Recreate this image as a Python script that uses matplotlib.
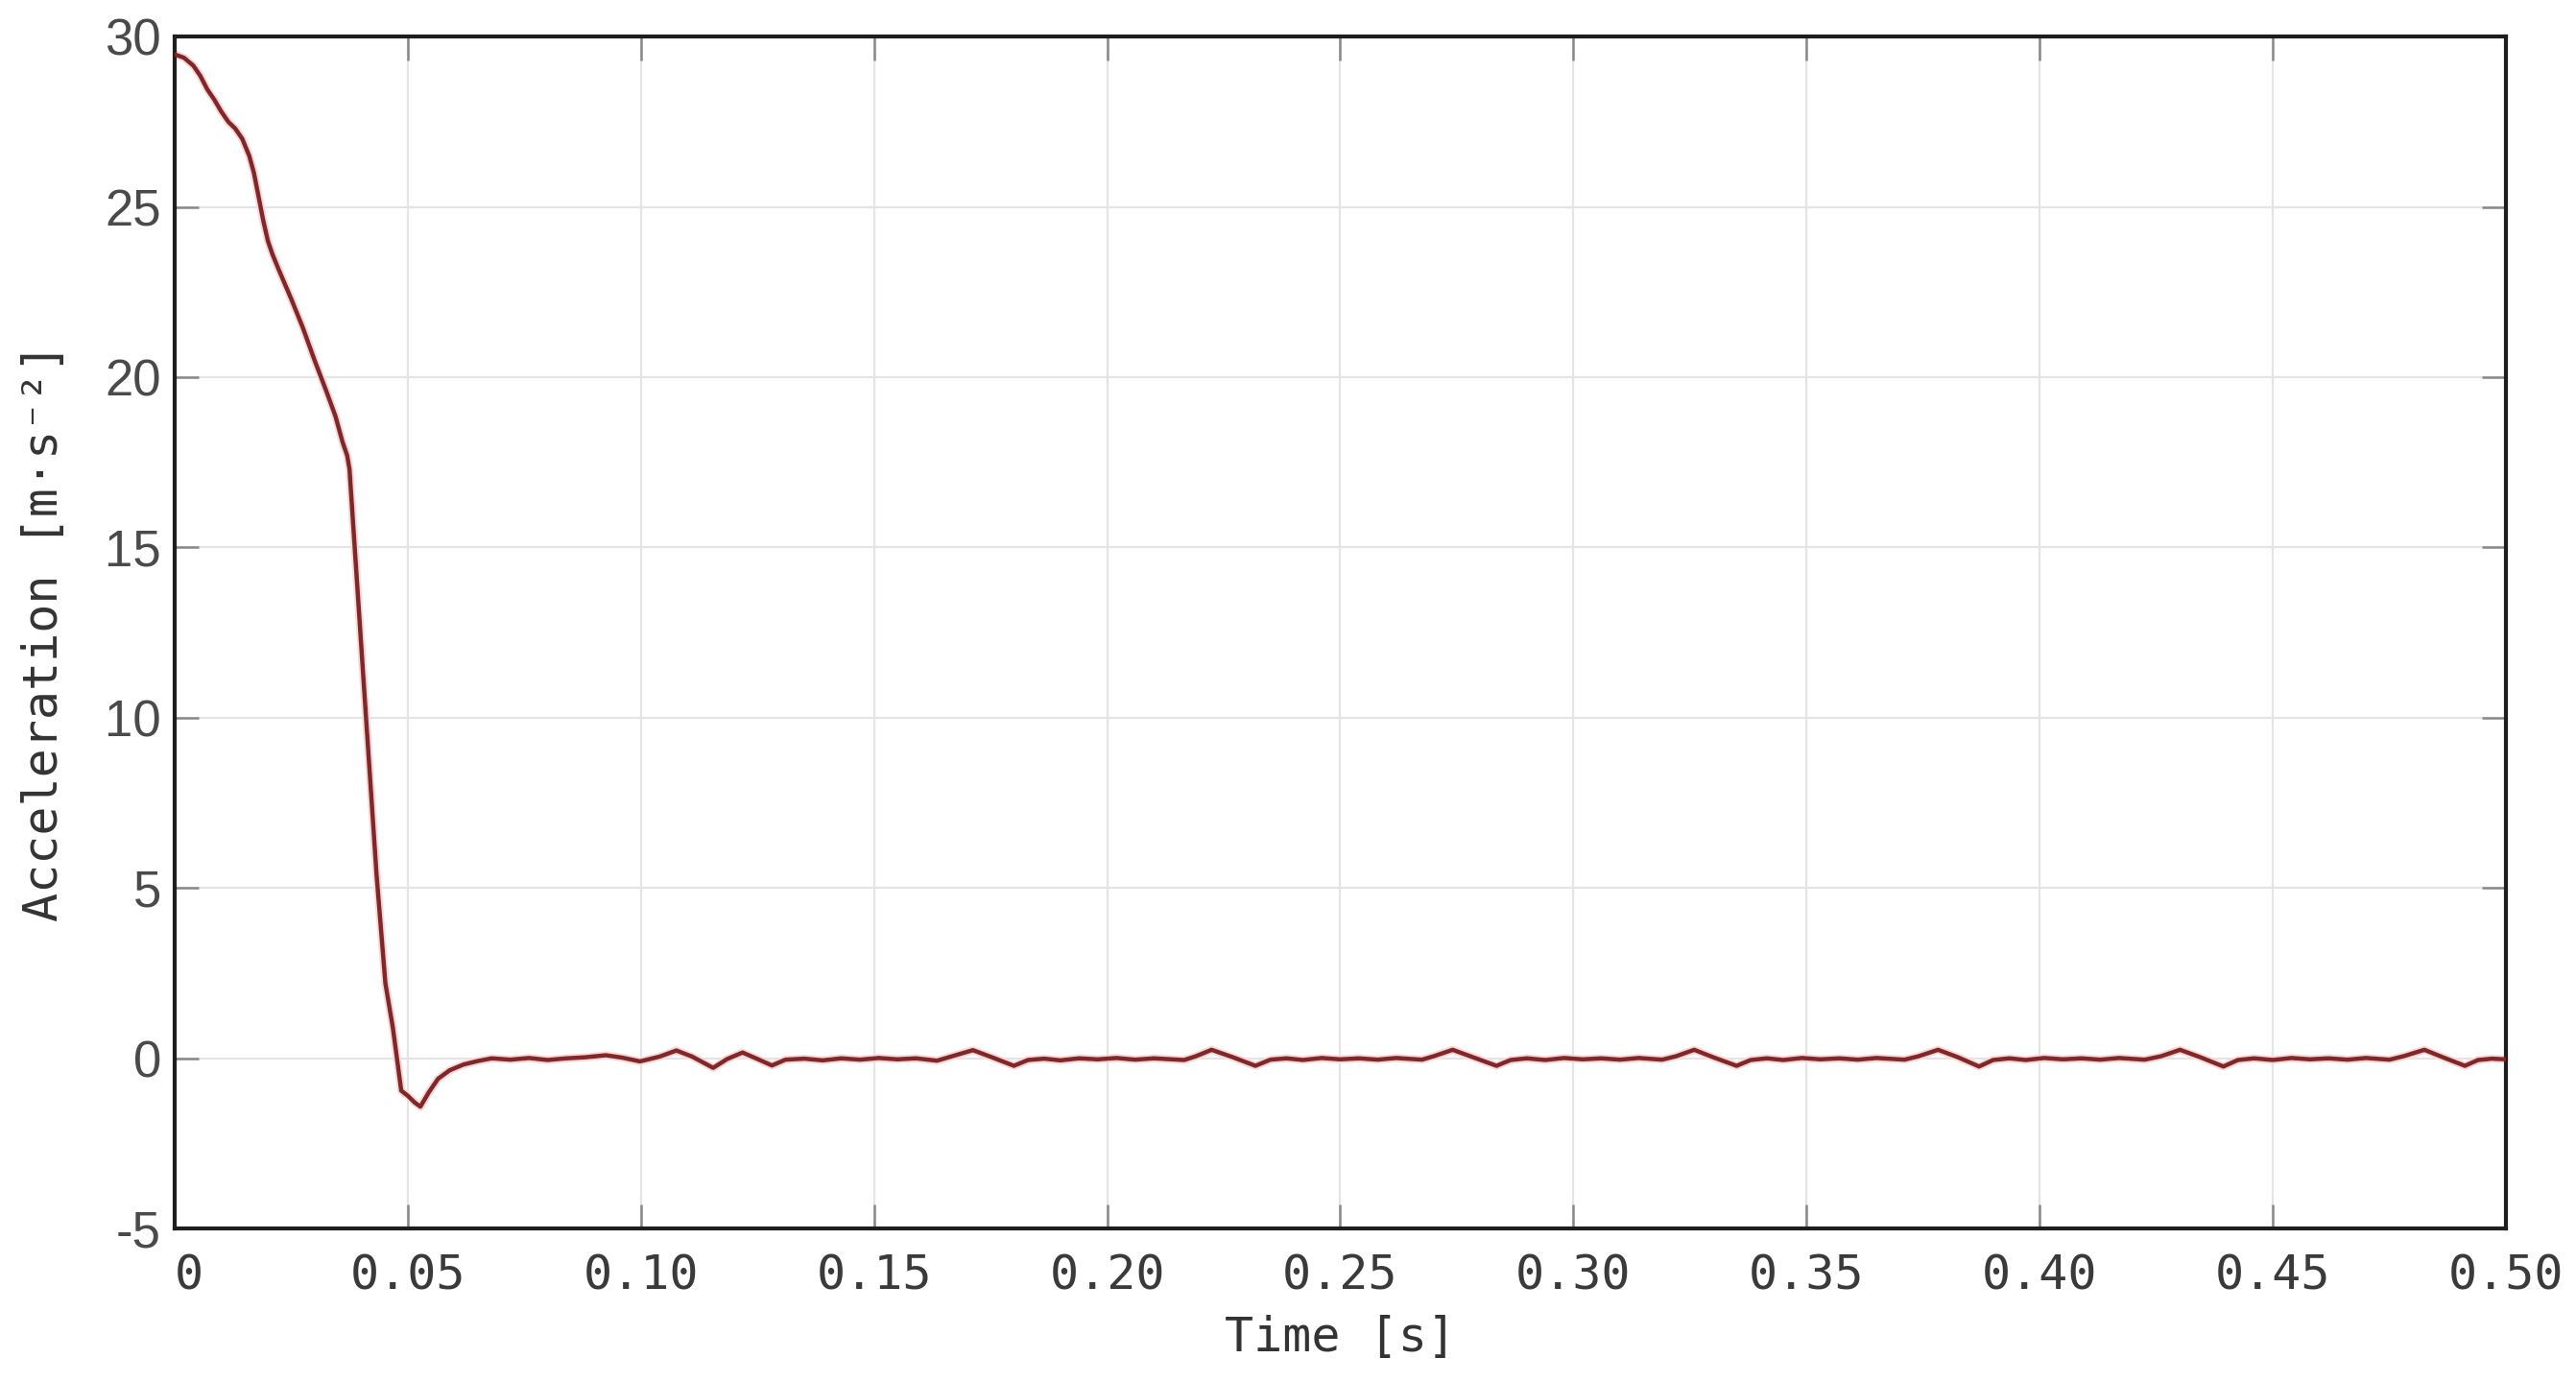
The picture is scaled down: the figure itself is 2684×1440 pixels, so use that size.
import numpy as np
import matplotlib.pyplot as plt

time_s = [0.000, 0.002, 0.004, 0.0055, 0.007, 0.0085, 0.010, 0.0115, 0.013, 0.0145,
          0.016, 0.017, 0.018, 0.019, 0.020, 0.021, 0.0225, 0.025, 0.0275, 0.030,
          0.0325, 0.0345, 0.036, 0.037, 0.0375, 0.039, 0.041, 0.0433, 0.0452, 0.0468,
          0.0486, 0.050, 0.0515, 0.0527, 0.0545, 0.0565, 0.059, 0.062, 0.065, 0.068,
          0.072, 0.076, 0.080, 0.084, 0.088, 0.0925, 0.096, 0.0998, 0.104, 0.1076,
          0.111, 0.1155, 0.1185, 0.1218, 0.125, 0.1281, 0.131, 0.135, 0.139, 0.143,
          0.147, 0.151, 0.155, 0.159, 0.1635, 0.1665, 0.1712, 0.1755, 0.180, 0.183,
          0.1865, 0.190, 0.194, 0.198, 0.202, 0.206, 0.210, 0.2165, 0.219, 0.2224,
          0.227, 0.2318, 0.235, 0.2385, 0.242, 0.246, 0.250, 0.254, 0.258, 0.262,
          0.2675, 0.270, 0.2741, 0.2785, 0.2835, 0.2865, 0.290, 0.294, 0.298, 0.302,
          0.306, 0.310, 0.314, 0.319, 0.322, 0.3259, 0.330, 0.335, 0.338, 0.3415,
          0.345, 0.349, 0.353, 0.357, 0.361, 0.365, 0.371, 0.374, 0.3782, 0.3825,
          0.387, 0.390, 0.3935, 0.397, 0.401, 0.405, 0.409, 0.413, 0.417, 0.4225,
          0.426, 0.4301, 0.4345, 0.4394, 0.4425, 0.446, 0.450, 0.454, 0.458, 0.462,
          0.466, 0.470, 0.475, 0.478, 0.4825, 0.4865, 0.4912, 0.494, 0.497, 0.500]
accel = [29.48, 29.38, 29.15, 28.85, 28.45, 28.15, 27.8, 27.5, 27.3, 27.0,
         26.5, 26.0, 25.3, 24.6, 24.0, 23.6, 23.1, 22.3, 21.45, 20.5,
         19.6, 18.85, 18.1, 17.7, 17.3, 14.2, 10.1, 5.4, 2.2, 0.9,
         -0.95, -1.1, -1.3, -1.42, -1.0, -0.6, -0.35, -0.18, -0.08, 0.0,
         -0.04, 0.01, -0.05, 0.00, 0.03, 0.09, 0.02, -0.09, 0.05, 0.23,
         0.05, -0.28, -0.02, 0.17, -0.02, -0.21, -0.04, -0.01, -0.06, 0.00,
         -0.04, 0.01, -0.03, 0.00, -0.07, 0.05, 0.24, 0.02, -0.22, -0.05,
         -0.01, -0.06, 0.00, -0.03, 0.01, -0.04, 0.00, -0.05, 0.06, 0.25,
         0.03, -0.22, -0.04, 0.00, -0.05, 0.01, -0.03, 0.00, -0.04, 0.01,
         -0.04, 0.06, 0.25, 0.03, -0.22, -0.05, 0.00, -0.05, 0.01, -0.03,
         0.00, -0.04, 0.01, -0.04, 0.06, 0.25, 0.03, -0.22, -0.05, 0.00,
         -0.05, 0.01, -0.03, 0.00, -0.04, 0.01, -0.04, 0.06, 0.25, 0.03,
         -0.24, -0.05, 0.00, -0.05, 0.01, -0.03, 0.00, -0.04, 0.01, -0.04,
         0.06, 0.25, 0.03, -0.24, -0.05, 0.00, -0.05, 0.01, -0.03, 0.00,
         -0.04, 0.01, -0.04, 0.06, 0.25, 0.03, -0.22, -0.05, -0.01, -0.03]

x_ticks = [0, 0.05, 0.10, 0.15, 0.20, 0.25, 0.30, 0.35, 0.40, 0.45, 0.50]
x_labels = ['0', '0.05', '0.10', '0.15', '0.20', '0.25', '0.30', '0.35', '0.40', '0.45', '0.50']
y_ticks = [-5, 0, 5, 10, 15, 20, 25, 30]

mono = 'DejaVu Sans Mono'
sans = 'Liberation Sans'

fig = plt.figure(figsize=(13.42, 7.2), dpi=200)
ax = fig.add_axes([0.0678, 0.111, 0.905, 0.8625])

# faint halo + main line
ax.plot(time_s, accel, color='#f6dada', lw=3.0, solid_joinstyle='round', zorder=2)
ax.plot(time_s, accel, color='#822628', lw=1.6, solid_joinstyle='round', zorder=3)

ax.set_xlim(0, 0.5)
ax.set_ylim(-5, 30)
ax.set_xticks(x_ticks)
ax.set_xticklabels(x_labels, family=mono, fontsize=18, color='#3a3a3a')
ax.set_yticks(y_ticks)
ax.set_yticklabels([str(v) for v in y_ticks], family=sans, fontsize=19, color='#4a4a4a')
ax.get_xticklabels()[0].set_horizontalalignment('left')

ax.grid(True, color='#e4e4e4', lw=0.8)
ax.set_axisbelow(True)
ax.tick_params(direction='in', length=9, width=0.9, color='#888888',
               top=True, right=True)
ax.tick_params(axis='x', pad=9)
ax.tick_params(axis='y', pad=5)
for s in ax.spines.values():
    s.set_linewidth(1.5)
    s.set_color('#1e1e1e')

ax.set_xlabel('Time [s]', family=mono, fontsize=18, color='#333333', labelpad=6)
ax.set_ylabel('Acceleration [m·s⁻²]', family=[mono, 'DejaVu Sans'], fontsize=18,
              color='#333333', labelpad=14)

fig.savefig('out.png', dpi=200, facecolor='white')
